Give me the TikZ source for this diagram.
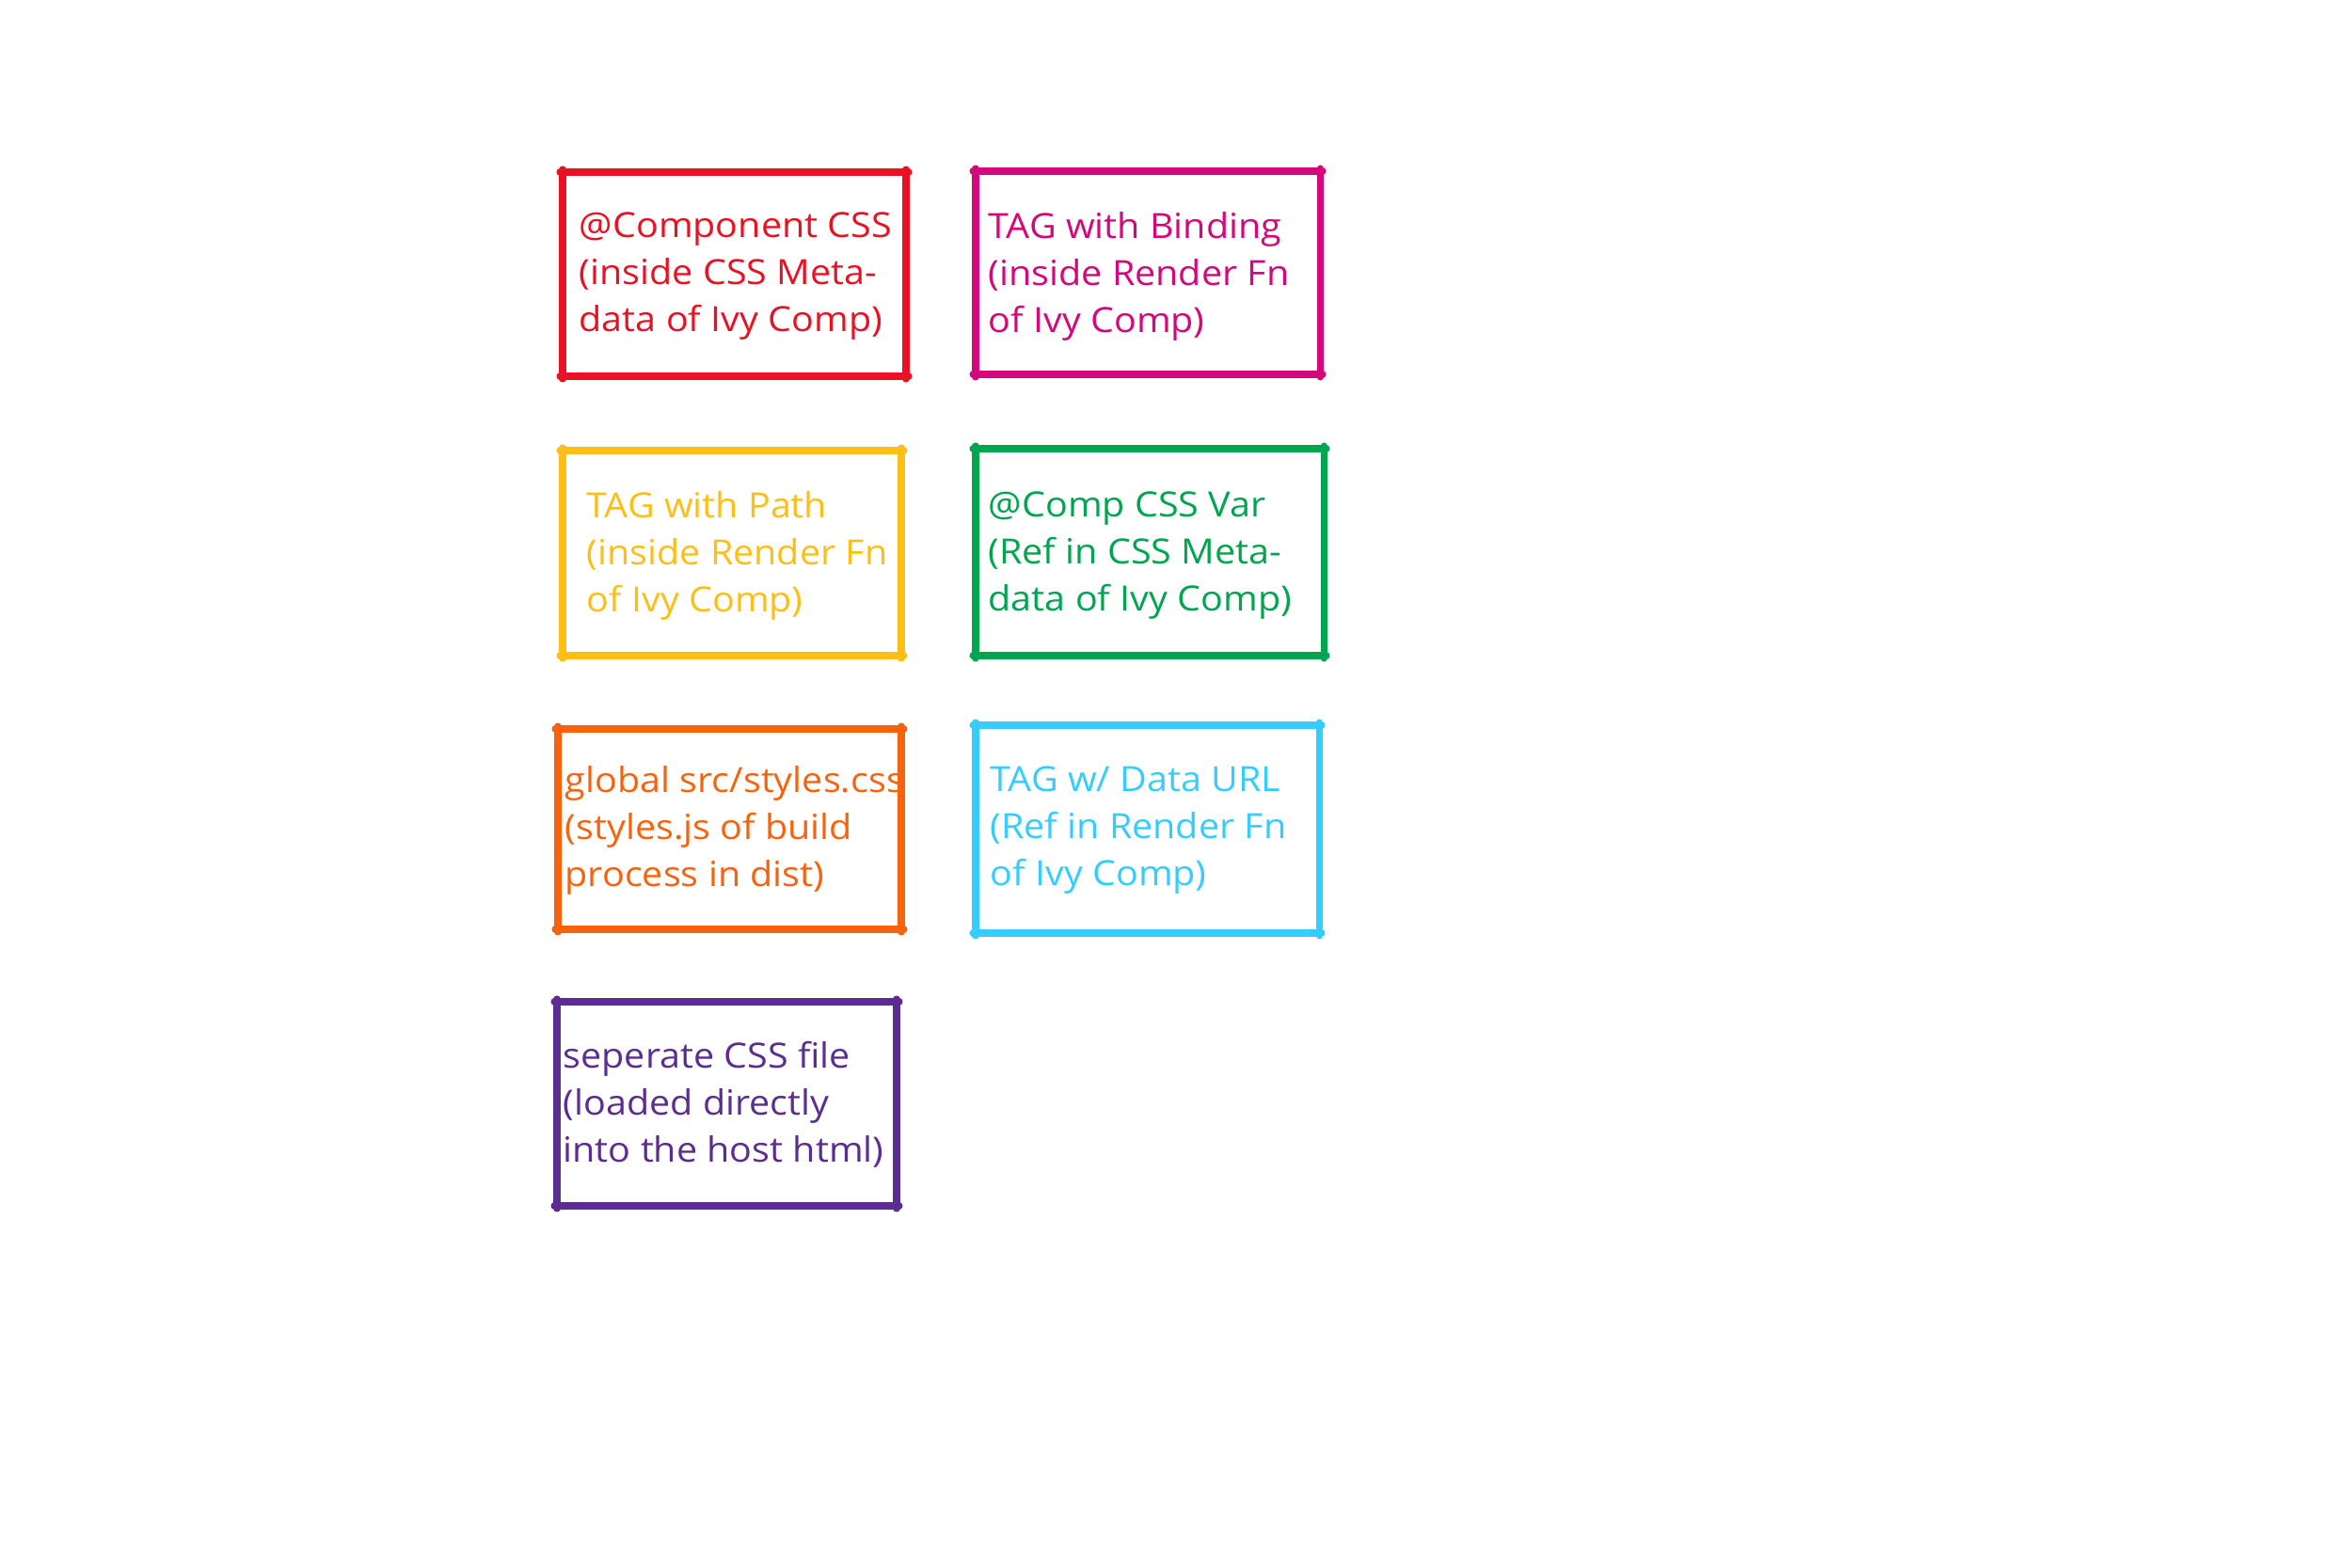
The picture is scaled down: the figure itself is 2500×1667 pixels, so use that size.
\documentclass[tikz,border=0pt]{standalone}
\usepackage{fontspec}
\setmainfont[FakeStretch=1.07]{Open Sans}
\definecolor{wbred}{RGB}{232,18,36}
\definecolor{wbmagenta}{RGB}{211,8,122}
\definecolor{wbyellow}{RGB}{253,190,22}
\definecolor{wbgreen}{RGB}{0,165,80}
\definecolor{wborange}{RGB}{247,99,12}
\definecolor{wbcyan}{RGB}{53,204,255}
\definecolor{wbpurple}{RGB}{92,45,145}
\tikzset{
  sketch/.style={line width=2pt,line cap=round},
  note/.style={anchor=north west,inner sep=0pt,align=left,
    font=\fontsize{10.5}{14.2}\selectfont}
}
% hand drawn frame: colour, left, top, right, bottom
\newcommand{\sketchbox}[5]{%
  \draw[sketch,#1] (#2-3,#3) -- (#4+3,#3);
  \draw[sketch,#1] (#2-3,#5) -- (#4+3,#5);
  \draw[sketch,#1] (#2,#3-3) -- (#2,#5+3);
  \draw[sketch,#1] (#4,#3-3) -- (#4,#5+3);
}
\begin{document}
\begin{tikzpicture}[x=0.01cm,y=-0.01cm]
  \useasboundingbox (0,0) rectangle (2500,1667);
  \sketchbox{wbred}{598}{183}{963}{400}
  \sketchbox{wbmagenta}{1037}{182}{1403}{398}
  \sketchbox{wbyellow}{598}{479}{958}{697}
  \sketchbox{wbgreen}{1037}{477}{1407}{697}
  \sketchbox{wborange}{593}{775}{958}{988}
  \sketchbox{wbcyan}{1037}{771}{1402}{992}
  \sketchbox{wbpurple}{592}{1065}{953}{1282}
  \node[note,wbred] (compcss) at (615,225) {@Component CSS\\(inside CSS Meta-\\data of Ivy Comp)};
  \node[note,wbmagenta] (tagbind) at (1050,225) {TAG with Binding\\(inside Render Fn\\of Ivy Comp)};
  \node[note,wbyellow] (tagpath) at (623,522) {TAG with Path\\(inside Render Fn\\of Ivy Comp)};
  \node[note,wbgreen] (compvar) at (1050,522) {@Comp CSS Var\\(Ref in CSS Meta-\\data of Ivy Comp)};
  \node[note,wborange] (globalcss) at (600,814) {global src/styles.css\\(styles.js of build\\process in dist)};
  \node[note,wbcyan] (tagurl) at (1052,814) {TAG w/ Data URL\\(Ref in Render Fn\\of Ivy Comp)};
  \node[note,wbpurple] (sepcss) at (598,1107) {seperate CSS file\\(loaded directly\\into the host html)};
\end{tikzpicture}
\end{document}
